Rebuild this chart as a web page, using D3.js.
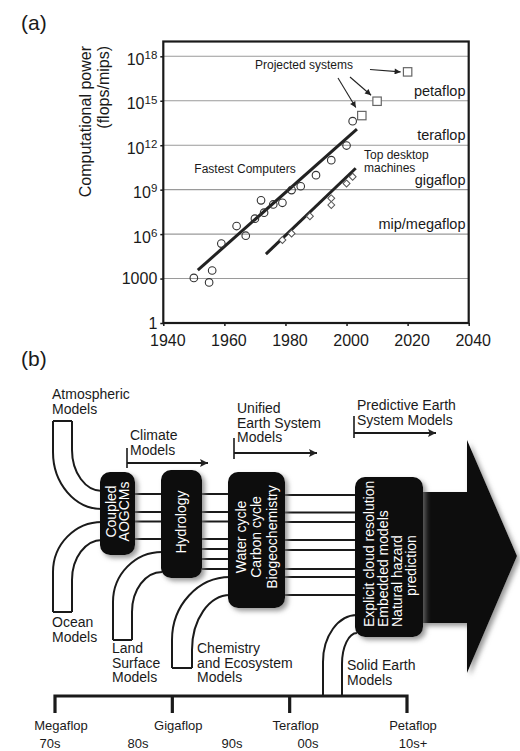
<!DOCTYPE html>
<html>
<head>
<meta charset="utf-8">
<script src="https://cdn.jsdelivr.net/npm/d3@7/dist/d3.min.js"></script>
<style>
  html, body { margin: 0; padding: 0; background: #fff; }
  svg { display: block; font-family: "Liberation Sans", Arial, Helvetica, sans-serif; }
</style>
</head>
<body>
<svg id="fig" width="520" height="751"></svg>
<script>
// ---------- Panel (a): computational power over time ----------
const fastestYear  = [1950, 1955, 1956, 1959, 1964, 1967, 1970, 1972, 1973, 1976, 1979, 1982, 1985, 1990, 1995, 2000, 2002];
const fastestPower = [1.1e3, 5.5e2, 3.5e3, 2.3e5, 3.5e6, 7.8e5, 1.1e7, 1.9e8, 2.8e7, 1.0e8, 1.3e8, 9.3e8, 1.7e9, 9.5e9, 9.8e10, 9.5e11, 4.2e13];

const projectedYear  = [2005, 2010, 2020];
const projectedPower = [1.0e14, 9.3e14, 8.9e16];

const desktopYear  = [1979, 1982, 1988, 1995, 1995, 2000, 2002];
const desktopPower = [4.0e5, 1.1e6, 1.6e7, 2.6e8, 9.1e7, 2.6e9, 7.4e9];

const fastestTrendYear  = [1951.3, 2003.4];
const fastestTrendPower = [3.7e3, 1.2e13];
const desktopTrendYear  = [1973.6, 2003.0];
const desktopTrendPower = [4.5e4, 2.8e10];

const xTickValues = [1940, 1960, 1980, 2000, 2020, 2040];
const yTickValues = [1, 1e3, 1e6, 1e9, 1e12, 1e15, 1e18];
const levelNames  = ["mip/megaflop", "gigaflop", "teraflop", "petaflop"];
const levelValues = [1e6, 1e9, 1e12, 1e15];

// ---------- Panel (b): evolution of Earth system models ----------
const boxLabels = [
  ["Coupled", "AOGCMs"],
  ["Hydrology"],
  ["Water cycle", "Carbon cycle", "Biogeochemistry"],
  ["Explicit cloud resolution", "Embedded models", "Natural hazard", "prediction"]
];
const eraLabels = [
  ["Climate", "Models"],
  ["Unified", "Earth System", "Models"],
  ["Predictive Earth", "System Models"]
];
const componentLabels = [
  ["Atmospheric", "Models"],
  ["Ocean", "Models"],
  ["Land", "Surface", "Models"],
  ["Chemistry", "and Ecosystem", "Models"],
  ["Solid Earth", "Models"]
];
const flopLabels   = ["Megaflop", "Gigaflop", "Teraflop", "Petaflop"];
const decadeLabels = ["70s", "80s", "90s", "00s", "10s+"];

const svg = d3.select("#fig");
const ink = "#1a1a1a";

// ===== Panel (a) =====
const x = d3.scaleLinear().domain([1940, 2040]).range([163.3, 468.7]);
const y = d3.scaleLog().domain([1, 1e19]).range([323, 41.5]);

svg.append("text").attr("x", 21).attr("y", 30).attr("font-size", 21).attr("fill", ink).text("(a)");

// horizontal reference lines
svg.append("g").selectAll("line")
  .data(yTickValues.filter(v => v > 1))
  .join("line")
  .attr("x1", x.range()[0]).attr("x2", x.range()[1])
  .attr("y1", d => y(d)).attr("y2", d => y(d))
  .attr("stroke", "#9a9a9a").attr("stroke-width", 1.1);

// level names above reference lines
svg.append("g").selectAll("text")
  .data(levelNames)
  .join("text")
  .attr("x", 465.5)
  .attr("y", (d, i) => y(levelValues[i]) - 5)
  .attr("text-anchor", "end").attr("font-size", 14.5).attr("fill", ink)
  .text(d => d);

// axes
const xAxis = svg.append("g").attr("transform", `translate(0,${y.range()[0]})`)
  .call(d3.axisBottom(x).tickValues(xTickValues).tickFormat(d3.format("d")).tickSize(3).tickPadding(8.5));
xAxis.selectAll("text").attr("font-size", 16).attr("fill", ink).attr("font-family", null).attr("dx", 4);

const yAxis = svg.append("g").attr("transform", `translate(${x.range()[0]},0)`)
  .call(d3.axisLeft(y).tickValues(yTickValues).tickSize(3).tickPadding(3).tickFormat(() => ""));
yAxis.selectAll(".tick text").each(function (d) {
  const t = d3.select(this).attr("font-size", 16).attr("fill", ink).attr("font-family", null);
  if (d < 1e6) {
    t.text(d3.format("d")(d));
  } else {
    t.attr("dy", "0.5em");
    t.append("tspan").text("10");
    t.append("tspan").attr("dy", "-0.5em").attr("font-size", 11.5).text(Math.round(Math.log10(d)));
  }
});
[xAxis, yAxis].forEach(a => { a.select(".domain").remove(); a.selectAll(".tick line").attr("stroke", ink).attr("stroke-width", 1.5); });

// frame
svg.append("rect")
  .attr("x", x.range()[0]).attr("y", y.range()[1])
  .attr("width", x.range()[1] - x.range()[0]).attr("height", y.range()[0] - y.range()[1])
  .attr("fill", "none").attr("stroke", ink).attr("stroke-width", 2.2);

// axis title
const yTitle = svg.append("g").attr("transform", "translate(0,46) rotate(-90)");
yTitle.append("text").attr("x", 0).attr("y", 85).attr("dy", "0.35em")
  .attr("text-anchor", "end").attr("font-size", 16).attr("fill", ink).text("Computational power");
yTitle.append("text").attr("x", 0).attr("y", 103).attr("dy", "0.35em")
  .attr("text-anchor", "end").attr("font-size", 16).attr("fill", ink).text("(flops/mips)");

// trend lines
const trend = d3.line().x(d => x(d[0])).y(d => y(d[1]));
svg.append("path").attr("d", trend(d3.zip(fastestTrendYear, fastestTrendPower)))
  .attr("stroke", "#222").attr("stroke-width", 3).attr("fill", "none");
svg.append("path").attr("d", trend(d3.zip(desktopTrendYear, desktopTrendPower)))
  .attr("stroke", "#222").attr("stroke-width", 3).attr("fill", "none");

// fastest computers: open circles
svg.append("g").selectAll("circle")
  .data(d3.zip(fastestYear, fastestPower))
  .join("circle")
  .attr("cx", d => x(d[0])).attr("cy", d => y(d[1])).attr("r", 3.8)
  .attr("fill", "none").attr("stroke", "#333").attr("stroke-width", 1.1);

// top desktop machines: open diamonds (square turned 45 degrees)
svg.append("g").selectAll("path")
  .data(d3.zip(desktopYear, desktopPower))
  .join("path")
  .attr("transform", d => `translate(${x(d[0])},${y(d[1])}) rotate(45)`)
  .attr("d", d3.symbol(d3.symbolSquare, 24))
  .attr("fill", "#fff").attr("stroke", "#555").attr("stroke-width", 1);

// projected systems: open squares
svg.append("g").selectAll("rect")
  .data(d3.zip(projectedYear, projectedPower))
  .join("rect")
  .attr("x", d => x(d[0]) - 4.2).attr("y", d => y(d[1]) - 4.2)
  .attr("width", 8.4).attr("height", 8.4)
  .attr("fill", "#fff").attr("stroke", "#666").attr("stroke-width", 1.2);

// annotations
const defs = svg.append("defs");
defs.append("marker").attr("id", "smallHead").attr("viewBox", "0 0 10 10")
  .attr("refX", 10).attr("refY", 5).attr("markerWidth", 8).attr("markerHeight", 6)
  .attr("markerUnits", "userSpaceOnUse").attr("orient", "auto")
  .append("path").attr("d", "M0,0 L10,5 L0,10 Z").attr("fill", "#222");
defs.append("marker").attr("id", "eraHead").attr("viewBox", "0 0 10 10")
  .attr("refX", 10).attr("refY", 5).attr("markerWidth", 14).attr("markerHeight", 8)
  .attr("markerUnits", "userSpaceOnUse").attr("orient", "auto")
  .append("path").attr("d", "M0,0 L10,5 L0,10 L2,5 Z").attr("fill", "#222");
const shadow = defs.append("filter").attr("id", "shadow")
  .attr("x", "-30%").attr("y", "-30%").attr("width", "170%").attr("height", "170%");
shadow.append("feDropShadow").attr("dx", 3).attr("dy", 3).attr("stdDeviation", 2.4)
  .attr("flood-color", "#777").attr("flood-opacity", 0.75);

svg.append("text").attr("x", 304).attr("y", 69).attr("text-anchor", "middle")
  .attr("font-size", 12).attr("fill", ink).text("Projected systems");
const arrowStarts = [[338, 78], [350, 77], [370, 69.5]];
const arrowOffsets = [[-6, -8], [-6, -6], [-7, 0]];
svg.append("g").selectAll("line")
  .data(d3.zip(projectedYear, projectedPower))
  .join("line")
  .attr("x1", (d, i) => arrowStarts[i][0]).attr("y1", (d, i) => arrowStarts[i][1])
  .attr("x2", (d, i) => x(d[0]) + arrowOffsets[i][0]).attr("y2", (d, i) => y(d[1]) + arrowOffsets[i][1])
  .attr("stroke", "#222").attr("stroke-width", 1.1).attr("marker-end", "url(#smallHead)");

svg.append("text").attr("x", 245).attr("y", 173).attr("text-anchor", "middle")
  .attr("font-size", 12).attr("fill", ink).text("Fastest Computers");
svg.append("text").attr("x", 364).attr("y", 159).attr("font-size", 12).attr("fill", ink).text("Top desktop");
svg.append("text").attr("x", 364).attr("y", 172).attr("font-size", 12).attr("fill", ink).text("machines");

// ===== Panel (b) =====
svg.append("text").attr("x", 21).attr("y", 366).attr("font-size", 21).attr("fill", ink).text("(b)");

const b = svg.append("g");

// a curved tube wall: straight run at x, then a quarter bend into a box side at (bx, by)
function bendPath(xv, yFar, yBend, bx, by) {
  const p = d3.path();
  p.moveTo(xv, yFar);
  p.lineTo(xv, yBend);
  p.bezierCurveTo(xv, yBend + 0.552 * (by - yBend), bx - 0.552 * (bx - xv), by, bx, by);
  return p.toString();
}
const tubes = [
  { cap: 421, walls: [[53, 452, 102, 509], [72, 450, 102, 491]] },   // atmosphere
  { cap: 612, walls: [[53, 572, 102, 522], [72, 580, 102, 540]] },   // ocean
  { cap: 640, walls: [[113, 602, 162, 552], [132, 612, 162, 572]] }, // land surface
  { cap: 668, walls: [[172, 640, 230, 577], [192, 650, 230, 595]] }, // chemistry & ecosystem
  { cap: 696, walls: [[323, 662, 357, 615], [342, 664, 357, 633]], open: true } // solid earth
];
tubes.forEach(t => {
  t.walls.forEach(w => {
    b.append("path").attr("d", bendPath(w[0], t.cap, w[1], w[2], w[3]))
      .attr("fill", "none").attr("stroke", ink).attr("stroke-width", 2);
  });
  if (!t.open) {
    b.append("line").attr("x1", t.walls[0][0]).attr("x2", t.walls[1][0])
      .attr("y1", t.cap).attr("y2", t.cap).attr("stroke", ink).attr("stroke-width", 2);
  }
});

// boxes (screen rectangles)
const boxes = [
  { x0: 100, x1: 135, y0: 472, y1: 555 },
  { x0: 161, x1: 202, y0: 470, y1: 578 },
  { x0: 228, x1: 285, y0: 472, y1: 608 },
  { x0: 355, x1: 423, y0: 477, y1: 637 }
];

// linking strands between neighbouring boxes
const strands = [
  [494, 512, 521.5, 539],
  [494, 512, 521.5, 539, 549, 559, 569],
  [495, 512.5, 522, 540, 550, 569, 577, 595]
];
strands.forEach((ys, i) => {
  b.append("g").selectAll("line").data(ys).join("line")
    .attr("x1", boxes[i].x1).attr("x2", boxes[i + 1].x0)
    .attr("y1", d => d).attr("y2", d => d)
    .attr("stroke", ink).attr("stroke-width", 2);
});

// timeline bar
const tl = d3.scalePoint().domain(flopLabels).range([55, 407]);
b.append("path")
  .attr("d", `M${tl(flopLabels[0])},713 V696 H${tl(flopLabels[3])} V713`)
  .attr("fill", "none").attr("stroke", ink).attr("stroke-width", 3.2);
b.append("g").selectAll("line").data(flopLabels.slice(1, 3)).join("line")
  .attr("x1", d => tl(d)).attr("x2", d => tl(d)).attr("y1", 696).attr("y2", 713)
  .attr("stroke", ink).attr("stroke-width", 3.2);
b.append("g").selectAll("text").data(flopLabels).join("text")
  .attr("x", d => tl(d) + 6).attr("y", 730).attr("text-anchor", "middle")
  .attr("font-size", 13).attr("fill", ink).text(d => d);
const decadeX = [50, 138, 232, 308, 413];
b.append("g").selectAll("text").data(decadeLabels).join("text")
  .attr("x", (d, i) => decadeX[i]).attr("y", 748).attr("text-anchor", "middle")
  .attr("font-size", 13).attr("fill", ink).text(d => d);

// big arrow
const bigArrow = [[420, 492], [467, 492], [467, 440], [517, 556], [467, 673], [467, 623], [420, 623]];
b.append("path").attr("d", d3.line()(bigArrow) + "Z")
  .attr("fill", "#0a0a0a").attr("filter", "url(#shadow)");

// black rounded boxes with white rotated labels
boxes.forEach((bx, i) => {
  b.append("rect").attr("x", bx.x0).attr("y", bx.y0)
    .attr("width", bx.x1 - bx.x0).attr("height", bx.y1 - bx.y0)
    .attr("rx", 10).attr("ry", 10)
    .attr("fill", "#0a0a0a").attr("filter", "url(#shadow)");
});
const lineGap = [13, 14, 15.5, 14.2];
boxes.forEach((bx, i) => {
  const cx = (bx.x0 + bx.x1) / 2, cy = (bx.y0 + bx.y1) / 2;
  const lines = boxLabels[i];
  const g = b.append("g").attr("transform", `translate(${cx},${cy}) rotate(-90)`);
  const n = lines.length;
  if (i < 3) {
    lines.forEach((s, k) => {
      g.append("text").attr("x", i === 2 ? 3 : 2).attr("y", (k - (n - 1) / 2) * lineGap[i])
        .attr("dy", "0.35em").attr("text-anchor", "middle")
        .attr("font-size", 14).attr("fill", "#fff").text(s);
    });
  } else {
    const startX = cy - 627;
    const nodes = lines.map((s, k) => g.append("text")
      .attr("x", startX).attr("y", (k - (n - 1) / 2) * lineGap[i] + 1)
      .attr("dy", "0.35em").attr("text-anchor", "start")
      .attr("font-size", 14).attr("fill", "#fff").text(s));
    // last line closes flush with the line above it
    const endX = startX + nodes[2].node().getComputedTextLength();
    nodes[3].attr("x", endX).attr("text-anchor", "end");
  }
});

// era arrows
const eras = [
  { x: 127, textY: 440, tick: [448, 468], arrowY: 463, end: 208 },
  { x: 234, textY: 413, tick: [438, 459], arrowY: 453, end: 317 },
  { x: 354, textY: 410, tick: [416, 438], arrowY: 433, end: 436 }
];
eras.forEach((e, i) => {
  eraLabels[i].forEach((s, k) => {
    b.append("text").attr("x", e.x + 3).attr("y", e.textY + k * 14.5)
      .attr("font-size", 14).attr("fill", ink).text(s);
  });
  b.append("line").attr("x1", e.x).attr("x2", e.x).attr("y1", e.tick[0]).attr("y2", e.tick[1])
    .attr("stroke", ink).attr("stroke-width", 1.6);
  b.append("line").attr("x1", e.x).attr("x2", e.end).attr("y1", e.arrowY).attr("y2", e.arrowY)
    .attr("stroke", ink).attr("stroke-width", 2).attr("marker-end", "url(#eraHead)");
});

// component labels
const componentPos = [[52, 399], [52, 627], [112, 653], [197, 653], [347, 670]];
componentLabels.forEach((lines, i) => {
  lines.forEach((s, k) => {
    b.append("text").attr("x", componentPos[i][0]).attr("y", componentPos[i][1] + k * 14.5)
      .attr("font-size", 14).attr("fill", ink).text(s);
  });
});
</script>
</body>
</html>
